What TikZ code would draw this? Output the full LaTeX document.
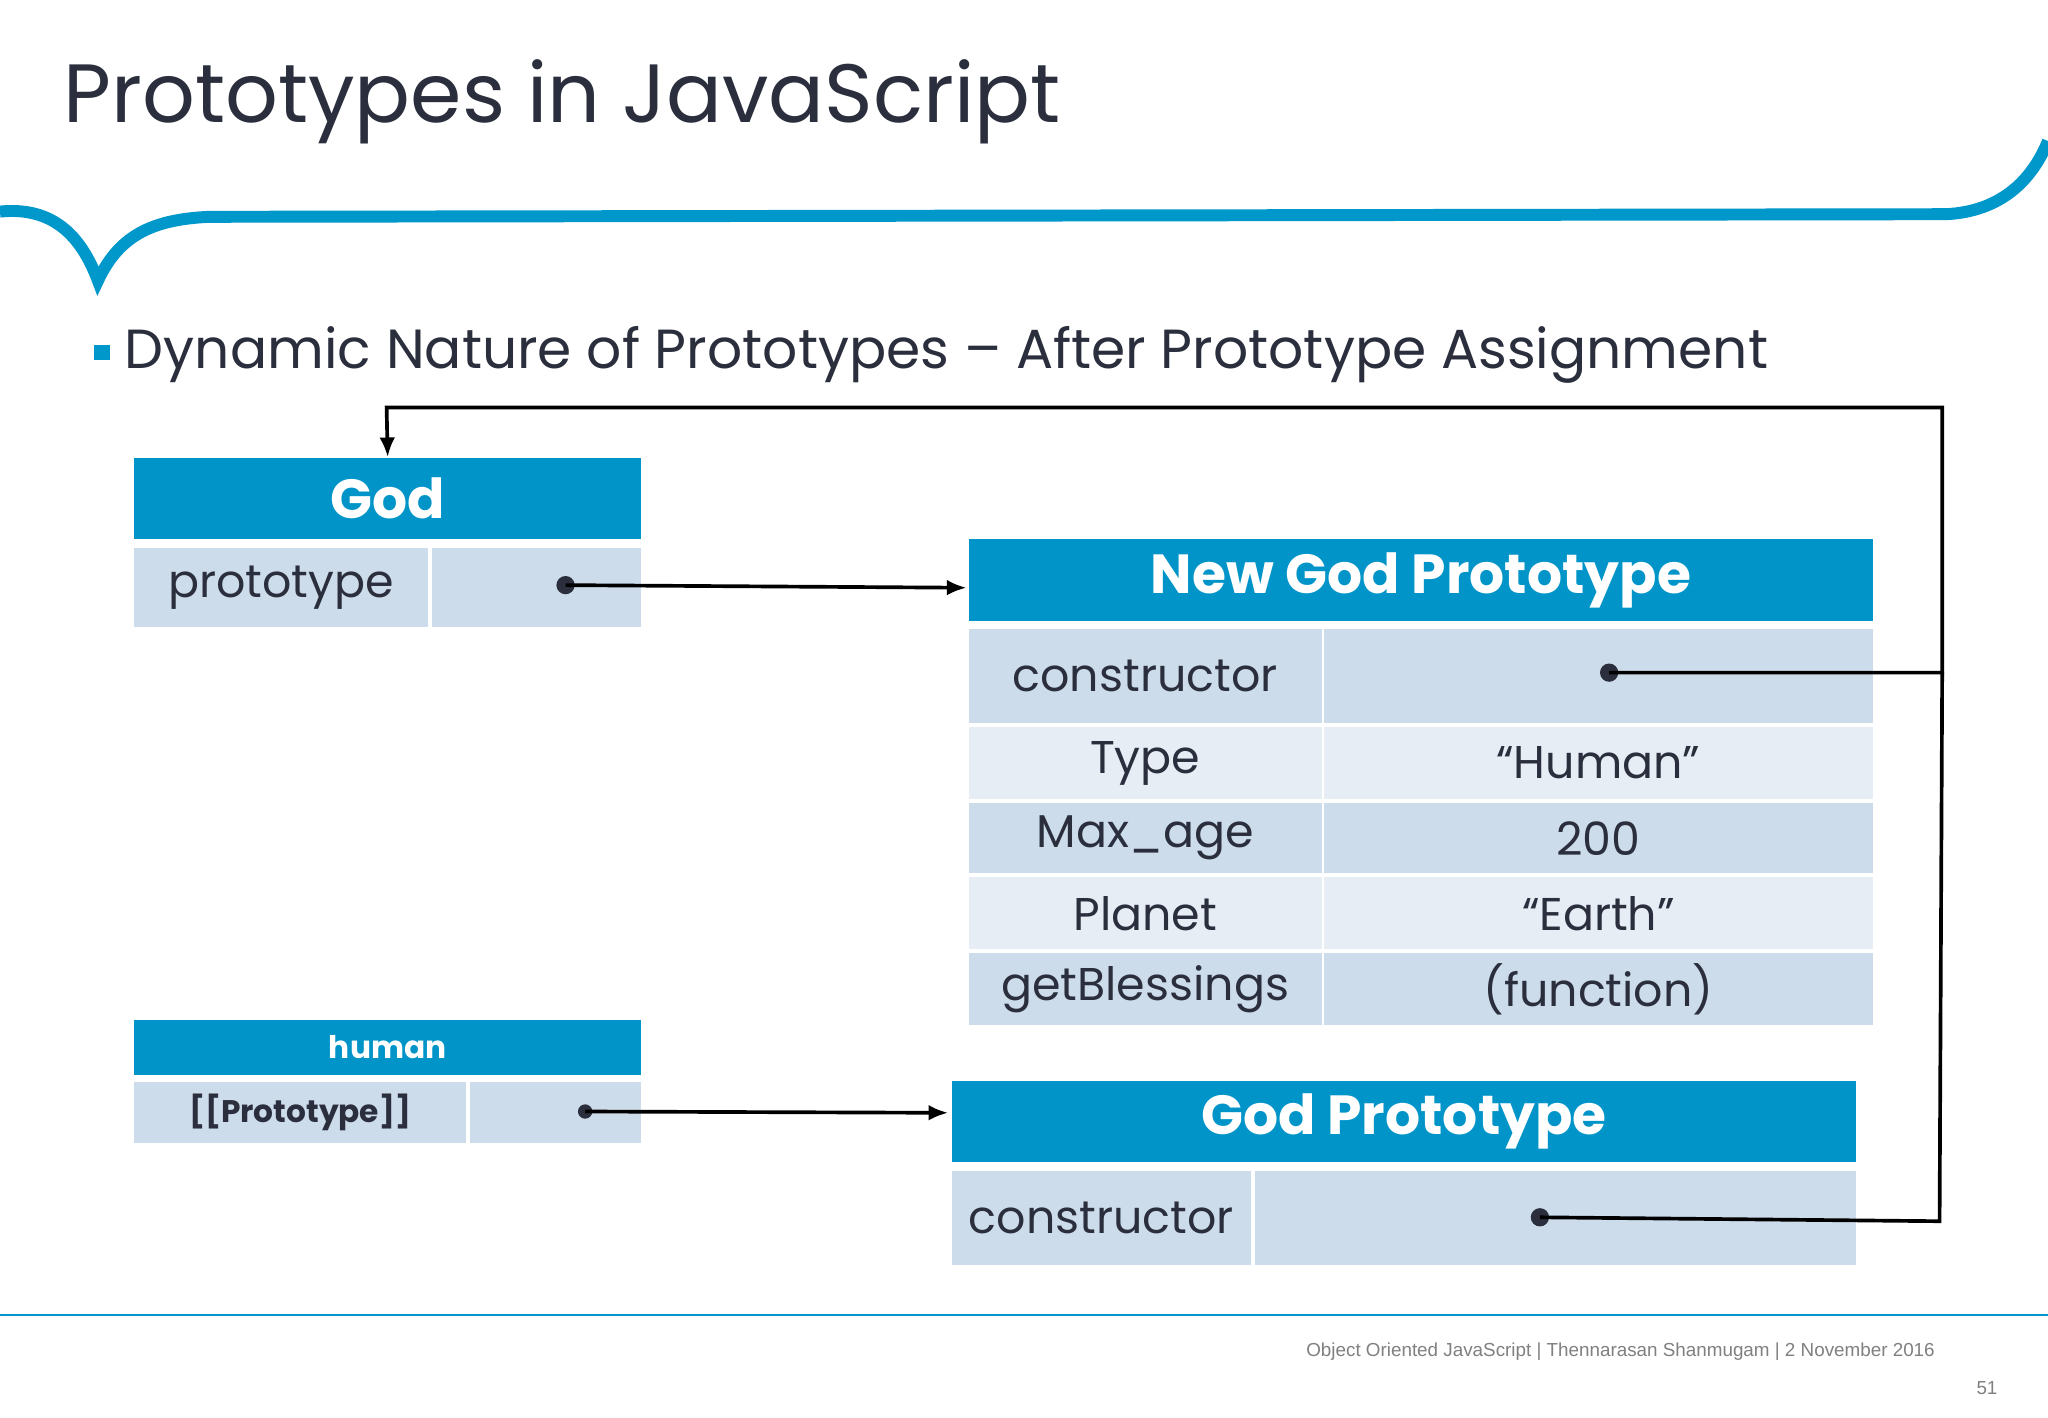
\documentclass[tikz,border=0pt]{standalone}
\usepackage{fontspec}
\setmainfont{Poppins}
\newfontfamily\footfont{Liberation Sans}
\usetikzlibrary{arrows.meta}
\definecolor{hdr}{HTML}{0094C8}
\definecolor{dk}{HTML}{CDDCEB}
\definecolor{lt}{HTML}{E6EDF5}
\definecolor{txt}{HTML}{2B2F3D}
\definecolor{swoosh}{HTML}{0098CA}
\tikzset{
  hd/.style={fill=hdr,draw=none,anchor=north west,inner sep=0pt,text=white,font=\bfseries\fontsize{12}{14}\selectfont},
  cl/.style={fill=dk,draw=none,anchor=north west,inner sep=0pt,text=txt,font=\fontsize{10}{12}\selectfont},
  cll/.style={cl,fill=lt},
  dot/.style={circle,fill=txt,inner sep=0pt,minimum size=0.14cm},
  conn/.style={line width=0.8pt,draw=black},
  arr/.style={conn,-{Latex[length=0.15cm,width=0.12cm]}}
}
\begin{document}
\begin{tikzpicture}[x=0.01cm,y=-0.01cm]
\useasboundingbox (0,0) rectangle (1568,1085);
\fill[white] (0,0) rectangle (1568,1085);
% swoosh
\draw[swoosh,line width=2.6pt] (0,162) .. controls (40,158) and (62,180) .. (75,215) .. controls (92,178) and (120,168) .. (160,166) -- (1490,164) .. controls (1530,162) and (1555,140) .. (1568,108);
\node[anchor=west,inner sep=0pt,text=txt,font=\fontsize{18}{22}\selectfont] (title) at (48,78) {Prototypes in JavaScript};
\fill[swoosh] (72,264) rectangle (84,276);
\node[anchor=west,inner sep=0pt,text=txt,font=\fontsize{12}{15}\selectfont] (sub) at (95,272) {Dynamic Nature of Prototypes -- After Prototype Assignment};
% God
\node[hd,minimum width=3.88cm,minimum height=0.62cm] (god) at (102,350) {God};
\node[cl,minimum width=2.25cm,minimum height=0.60cm] (gp1) at (102,419) {prototype};
\node[cl,minimum width=1.60cm,minimum height=0.60cm] (gp2) at (330,419) {};
\node[dot] (d1) at (433,448) {};
% New God Prototype
\node[hd,minimum width=6.92cm,minimum height=0.63cm] (ngp) at (741,412) {New God Prototype};
\node[cl,minimum width=2.70cm,minimum height=0.72cm] (c1) at (741,481) {constructor};
\node[cl,minimum width=4.20cm,minimum height=0.72cm] (c2) at (1013,481) {};
\node[cll,minimum width=2.70cm,minimum height=0.55cm] (t1) at (741,556) {Type};
\node[cll,minimum width=4.20cm,minimum height=0.55cm] (t2) at (1013,556) {“Human”};
\node[cl,minimum width=2.70cm,minimum height=0.54cm] (m1) at (741,614) {Max\_age};
\node[cl,minimum width=4.20cm,minimum height=0.54cm] (m2) at (1013,614) {200};
\node[cll,minimum width=2.70cm,minimum height=0.55cm] (p1) at (741,671) {Planet};
\node[cll,minimum width=4.20cm,minimum height=0.55cm] (p2) at (1013,671) {“Earth”};
\node[cl,minimum width=2.70cm,minimum height=0.55cm] (b1) at (741,729) {getBlessings};
\node[cl,minimum width=4.20cm,minimum height=0.55cm] (b2) at (1013,729) {(function)};
\node[dot] (d2) at (1232,515) {};
% human
\node[hd,minimum width=3.88cm,minimum height=0.42cm,font=\bfseries\fontsize{6.8}{8}\selectfont] (hum) at (102,780) {human};
\node[cl,minimum width=2.54cm,minimum height=0.46cm,font=\bfseries\fontsize{6.8}{8}\selectfont] (hp1) at (102,828) {[[Prototype]]};
\node[cl,minimum width=1.31cm,minimum height=0.46cm] (hp2) at (359,828) {};
\node[dot,minimum size=0.11cm] (d3) at (448,851) {};
% God Prototype
\node[hd,minimum width=6.92cm,minimum height=0.62cm] (gpr) at (728,827) {God Prototype};
\node[cl,minimum width=2.29cm,minimum height=0.72cm] (gc1) at (728,896) {constructor};
\node[cl,minimum width=4.60cm,minimum height=0.72cm] (gc2) at (960,896) {};
\node[dot] (d4) at (1179,932) {};
% connectors
\coordinate (k1) at (1487,515);
\coordinate (k2) at (1487,312);
\coordinate (k3) at (296,312);
\coordinate (k4) at (1485,935);
\draw[arr] (d1.center) -- (740,450) coordinate (e1);
\draw[arr] (d3.center) -- (726,852) coordinate (e3);
\draw[arr] (d2.center) -- (k1) -- (k2) -- (k3) -- (god.north);
\draw[conn] (d4.center) -- (k4) -- (k1);
% footer
\draw[swoosh,line width=0.5pt] (0,1007) -- (1568,1007);
\node[anchor=east,inner sep=0pt,text=gray,font=\footfont\fontsize{4.1}{5}\selectfont] (foot) at (1482,1035) {Object Oriented JavaScript | Thennarasan Shanmugam | 2 November 2016};
\node[anchor=east,inner sep=0pt,text=gray,font=\footfont\fontsize{4.1}{5}\selectfont] (num) at (1530,1063) {51};
\end{tikzpicture}
\end{document}
